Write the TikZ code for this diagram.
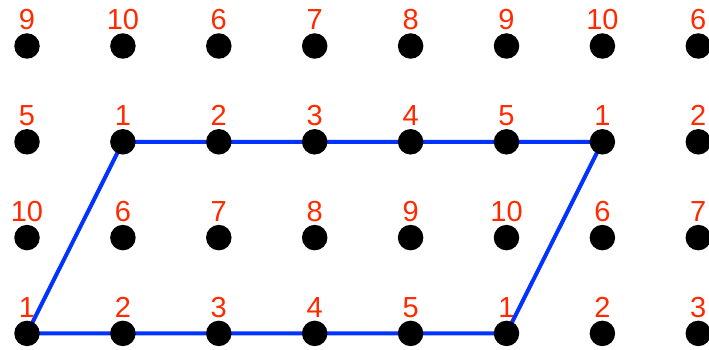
\documentclass[tikz,border=0pt]{standalone}
\usepackage{fontspec}
\setmainfont{Liberation Sans}
\definecolor{labred}{RGB}{255,42,0}
\definecolor{edgeblue}{RGB}{0,51,255}
\tikzset{
  dot/.style={circle,fill=black,inner sep=0pt,minimum size=25.5pt},
  lab/.style={text=labred,font=\fontsize{29}{29}\selectfont,anchor=base,inner sep=0pt},
  edge/.style={draw=edgeblue,line width=4pt,line join=round}
}
\begin{document}
\begin{tikzpicture}[x=1pt,y=-1pt]
\useasboundingbox (0,0) rectangle (709,350);
\foreach \r in {0,...,3}{
  \foreach \c in {0,...,7}{
    \coordinate (p\r\c) at ({27+95.9*\c},{46+95.8*\r});
  }
}
\draw[edge] (p30) -- (p11) -- (p16) -- (p35) -- cycle;
\foreach \r/\labs in {0/{9,10,6,7,8,9,10,6},1/{5,1,2,3,4,5,1,2},2/{10,6,7,8,9,10,6,7},3/{1,2,3,4,5,1,2,3}}{
  \foreach \t [count=\k from 0] in \labs {
    \node[dot] (d\r\k) at (p\r\k) {};
    \node[lab] (l\r\k) at ([yshift=16pt]p\r\k) {\t};
  }
}
\end{tikzpicture}
\end{document}
